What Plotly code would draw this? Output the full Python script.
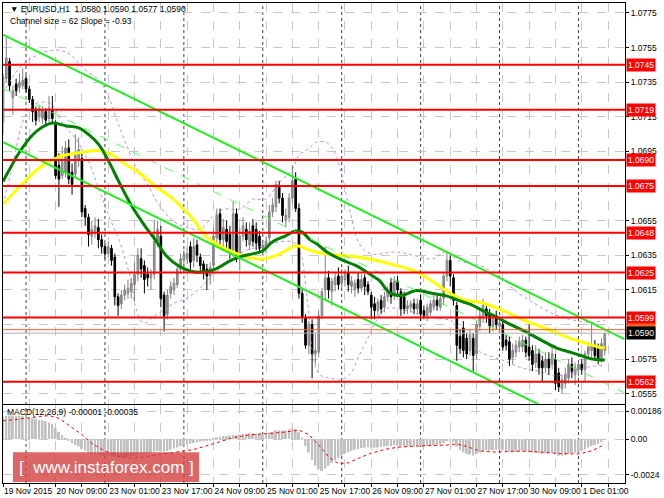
import plotly.graph_objects as go

# ---------------- data ----------------
opens = [1.0712,1.0737,1.0747,1.0726,1.0734,1.0732,1.0733,1.0737,1.0731,1.0725,1.0719,1.0715,1.0714,1.0718,1.0714,1.0719,
         1.0711,1.0687,1.0681,1.0683,1.0697,1.0683,1.0682,1.0690,1.0691,1.0662,1.0657,1.0646,1.0648,1.0651,1.0644,1.0640,
         1.0636,1.0639,1.0634,1.0611,1.0607,1.0612,1.0613,1.0614,1.0618,1.0624,1.0633,1.0629,1.0624,1.0622,1.0624,1.0643,
         1.0646,1.0612,1.0601,1.0613,1.0615,1.0618,1.0627,1.0632,1.0633,1.0640,1.0632,1.0641,1.0634,1.0630,1.0627,1.0623,
         1.0629,1.0645,1.0659,1.0644,1.0650,1.0647,1.0638,1.0659,1.0633,1.0646,1.0650,1.0641,1.0652,1.0650,1.0646,1.0639,
         1.0639,1.0645,1.0660,1.0663,1.0675,1.0668,1.0655,1.0657,1.0668,1.0679,1.0662,1.0613,1.0599,1.0583,1.0595,1.0578,
         1.0579,1.0600,1.0615,1.0622,1.0614,1.0618,1.0623,1.0619,1.0621,1.0625,1.0617,1.0615,1.0621,1.0616,1.0622,1.0618,
         1.0612,1.0607,1.0603,1.0609,1.0605,1.0611,1.0619,1.0612,1.0620,1.0614,1.0611,1.0604,1.0605,1.0607,1.0604,1.0609,
         1.0603,1.0600,1.0602,1.0605,1.0609,1.0605,1.0610,1.0623,1.0632,1.0622,1.0606,1.0588,1.0593,1.0587,1.0580,1.0587,
         1.0578,1.0594,1.0599,1.0604,1.0601,1.0594,1.0600,1.0594,1.0595,1.0586,1.0585,1.0576,1.0579,1.0582,1.0582,1.0586,
         1.0582,1.0580,1.0573,1.0578,1.0574,1.0570,1.0575,1.0572,1.0575,1.0567,1.0558,1.0561,1.0564,1.0572,1.0566,1.0569,
         1.0572,1.0569,1.0578,1.0580,1.0583,1.0581,1.0576,1.0580]
highs = [1.0740,1.0761,1.0749,1.0733,1.0737,1.0740,1.0743,1.0739,1.0733,1.0727,1.0721,1.0722,1.0721,1.0720,1.0727,1.0727,
         1.0713,1.0694,1.0698,1.0701,1.0702,1.0688,1.0705,1.0703,1.0694,1.0664,1.0659,1.0655,1.0657,1.0656,1.0647,1.0642,
         1.0643,1.0641,1.0636,1.0613,1.0615,1.0618,1.0621,1.0622,1.0631,1.0639,1.0639,1.0632,1.0628,1.0627,1.0655,1.0655,
         1.0652,1.0614,1.0615,1.0620,1.0622,1.0630,1.0636,1.0638,1.0640,1.0643,1.0645,1.0644,1.0636,1.0632,1.0630,1.0631,
         1.0651,1.0662,1.0662,1.0656,1.0655,1.0652,1.0666,1.0662,1.0651,1.0657,1.0654,1.0654,1.0656,1.0654,1.0649,1.0644,
         1.0646,1.0664,1.0668,1.0678,1.0678,1.0671,1.0662,1.0671,1.0687,1.0683,1.0665,1.0616,1.0601,1.0597,1.0598,1.0590,
         1.0603,1.0616,1.0640,1.0626,1.0622,1.0625,1.0628,1.0627,1.0627,1.0629,1.0623,1.0621,1.0625,1.0624,1.0624,1.0620,
         1.0614,1.0611,1.0610,1.0612,1.0614,1.0617,1.0622,1.0623,1.0623,1.0616,1.0614,1.0609,1.0609,1.0610,1.0610,1.0612,
         1.0606,1.0607,1.0609,1.0613,1.0612,1.0612,1.0625,1.0637,1.0635,1.0624,1.0608,1.0592,1.0597,1.0590,1.0592,1.0590,
         1.0597,1.0604,1.0610,1.0607,1.0604,1.0601,1.0603,1.0598,1.0597,1.0589,1.0588,1.0584,1.0586,1.0588,1.0589,1.0588,
         1.0595,1.0583,1.0583,1.0581,1.0577,1.0579,1.0579,1.0582,1.0578,1.0570,1.0566,1.0570,1.0575,1.0576,1.0573,1.0574,
         1.0575,1.0580,1.0585,1.0596,1.0586,1.0584,1.0587,1.0590]
lows = [1.0705,1.0735,1.0730,1.0716,1.0727,1.0729,1.0731,1.0729,1.0723,1.0712,1.0710,1.0712,1.0711,1.0710,1.0712,1.0712,
        1.0679,1.0663,1.0679,1.0680,1.0676,1.0670,1.0680,1.0686,1.0657,1.0652,1.0640,1.0641,1.0645,1.0639,1.0636,1.0633,
        1.0634,1.0629,1.0606,1.0600,1.0604,1.0609,1.0610,1.0610,1.0608,1.0620,1.0622,1.0613,1.0617,1.0615,1.0621,1.0640,
        1.0605,1.0591,1.0598,1.0610,1.0612,1.0616,1.0624,1.0629,1.0630,1.0627,1.0628,1.0631,1.0625,1.0621,1.0615,1.0618,
        1.0626,1.0641,1.0641,1.0640,1.0637,1.0633,1.0634,1.0631,1.0626,1.0643,1.0640,1.0638,1.0640,1.0638,1.0636,1.0636,
        1.0636,1.0642,1.0657,1.0660,1.0665,1.0654,1.0651,1.0654,1.0665,1.0660,1.0610,1.0596,1.0581,1.0578,1.0564,1.0572,
        1.0576,1.0598,1.0610,1.0610,1.0606,1.0614,1.0615,1.0616,1.0617,1.0614,1.0613,1.0611,1.0613,1.0614,1.0612,1.0612,
        1.0598,1.0598,1.0600,1.0601,1.0602,1.0608,1.0607,1.0609,1.0612,1.0600,1.0601,1.0601,1.0602,1.0601,1.0601,1.0597,
        1.0598,1.0597,1.0600,1.0603,1.0603,1.0603,1.0606,1.0620,1.0617,1.0606,1.0574,1.0578,1.0576,1.0575,1.0577,1.0568,
        1.0575,1.0591,1.0596,1.0596,1.0590,1.0591,1.0592,1.0590,1.0580,1.0580,1.0571,1.0572,1.0576,1.0579,1.0579,1.0576,
        1.0574,1.0568,1.0570,1.0566,1.0562,1.0567,1.0566,1.0569,1.0557,1.0556,1.0555,1.0558,1.0561,1.0564,1.0560,1.0565,
        1.0566,1.0562,1.0575,1.0576,1.0574,1.0572,1.0573,1.0577]
closes = [1.0738,1.0749,1.0733,1.0730,1.0730,1.0735,1.0736,1.0731,1.0725,1.0718,1.0713,1.0720,1.0719,1.0713,1.0720,1.0714,
          1.0681,1.0679,1.0689,1.0697,1.0679,1.0676,1.0694,1.0696,1.0660,1.0657,1.0647,1.0650,1.0652,1.0644,1.0640,1.0636,
          1.0640,1.0632,1.0611,1.0606,1.0612,1.0615,1.0616,1.0619,1.0624,1.0635,1.0627,1.0621,1.0622,1.0624,1.0643,1.0650,
          1.0610,1.0600,1.0612,1.0617,1.0619,1.0627,1.0633,1.0635,1.0636,1.0631,1.0640,1.0635,1.0629,1.0625,1.0623,1.0628,
          1.0646,1.0658,1.0644,1.0651,1.0643,1.0637,1.0659,1.0634,1.0646,1.0652,1.0644,1.0649,1.0643,1.0642,1.0639,1.0641,
          1.0643,1.0660,1.0664,1.0676,1.0668,1.0658,1.0658,1.0668,1.0678,1.0662,1.0613,1.0599,1.0583,1.0595,1.0578,1.0580,
          1.0600,1.0614,1.0622,1.0615,1.0620,1.0622,1.0618,1.0623,1.0624,1.0618,1.0620,1.0619,1.0616,1.0621,1.0617,1.0614,
          1.0605,1.0603,1.0608,1.0604,1.0611,1.0614,1.0611,1.0620,1.0615,1.0604,1.0604,1.0606,1.0607,1.0604,1.0607,1.0601,
          1.0600,1.0605,1.0607,1.0609,1.0606,1.0610,1.0623,1.0632,1.0623,1.0609,1.0583,1.0581,1.0580,1.0578,1.0589,1.0577,
          1.0595,1.0600,1.0606,1.0600,1.0594,1.0598,1.0595,1.0596,1.0582,1.0583,1.0575,1.0580,1.0583,1.0585,1.0586,1.0579,
          1.0577,1.0572,1.0578,1.0570,1.0570,1.0575,1.0570,1.0578,1.0561,1.0559,1.0563,1.0566,1.0572,1.0568,1.0570,1.0572,
          1.0569,1.0578,1.0582,1.0583,1.0577,1.0575,1.0584,1.0590]

time_labels = ["19 Nov 2015", "20 Nov 09:00", "23 Nov 01:00", "23 Nov 17:00", "24 Nov 09:00", "25 Nov 01:00",
               "25 Nov 17:00", "26 Nov 09:00", "27 Nov 01:00", "27 Nov 17:00", "30 Nov 09:00", "1 Dec 01:00"]
label_bars = [0, 16, 32, 48, 64, 80, 96, 112, 128, 144, 160, 176]
day_start_bars = [7, 31, 55, 79, 103, 127, 151, 175]

levels = [1.0745, 1.0719, 1.0690, 1.0675, 1.0648, 1.0625, 1.0599, 1.0562]
bid_price = 1.0590
ask_price = 1.0592
price_ticks = [1.0775, 1.0755, 1.0735, 1.0715, 1.0695, 1.0675, 1.0655, 1.0635, 1.0615, 1.0595, 1.0575, 1.0555]
hidden_ticks = [1.0675, 1.0595]

ma_green_bars = [0, 5.1, 9.0, 12.0, 15.1, 19.3, 23.2, 26.2, 29.2, 32.2, 35.2, 39.2, 43.4, 46.4, 49.7, 53.9, 57.8, 61.7,
                 64.8, 69.0, 72.0, 75.9, 78.9, 81.9, 85.8, 88.9, 91.0, 93.1, 95.5, 98.5, 102.4, 107.5, 111.4, 114.5,
                 117.5, 121.1, 125.6, 130.7, 134.6, 138.6, 142.2, 145.8, 149.7, 154.2, 159.3, 164.2, 168.4, 172.3,
                 176.2, 179.2, 183]
ma_green_vals = [1.06776, 1.06948, 1.07045, 1.07091, 1.07114, 1.07097, 1.07085, 1.07045, 1.06988, 1.06891, 1.06776,
                 1.06633, 1.06513, 1.06438, 1.06346, 1.06283, 1.06255, 1.06255, 1.06272, 1.06318, 1.06341, 1.06358,
                 1.06375, 1.06427, 1.06461, 1.06490, 1.06484, 1.06444, 1.06415, 1.06369, 1.06329, 1.06289, 1.06243,
                 1.06203, 1.06135, 1.06117, 1.06146, 1.06129, 1.06117, 1.06089, 1.06066, 1.06031, 1.05997, 1.05951,
                 1.05905, 1.05854, 1.05814, 1.05791, 1.05768, 1.05751, 1.05745]
ma_yellow_bars = [0, 5.1, 11.1, 17.2, 23.2, 29.2, 33.1, 37.3, 41.3, 46.4, 51.8, 57.8, 61.7, 66.0, 69.9, 73.8, 78.9, 82.8,
                  85.8, 88.9, 91.0, 94.0, 98.5, 107.5, 117.5, 125.6, 130.7, 135.2, 139.8, 145.2, 151.2, 159.3, 167.2,
                  172.3, 177.4, 181.3, 183]
ma_yellow_vals = [1.06644, 1.06747, 1.06856, 1.06919, 1.06942, 1.06954, 1.06931, 1.06874, 1.06828, 1.06747, 1.06673,
                  1.06558, 1.06461, 1.06404, 1.06369, 1.06341, 1.06329, 1.06346, 1.06375, 1.06404, 1.06398, 1.06375,
                  1.06358, 1.06341, 1.06301, 1.06255, 1.06197, 1.06140, 1.06094, 1.06077, 1.06037, 1.05968, 1.05911,
                  1.05871, 1.05842, 1.05819, 1.05814]
bb_upper_bars = [0, 5.1, 9.0, 14.2, 17.8, 20.8, 24.1, 29.2, 32.2, 34.6, 37.3, 40.4, 44.3, 47.3, 51.8, 55.7, 59.9, 63.9,
                 66.9, 72.0, 75.9, 79.8, 84.0, 88.0, 90.1, 92.5, 95.5, 98.5, 100.9, 103.0, 105.4, 108.4, 112.0, 119.6,
                 125.6, 130.7, 134.6, 138.6, 145.2, 148.2, 152.1, 155.7, 161.7, 167.8, 173.8, 179.8, 183]
bb_upper_vals = [1.07286, 1.07435, 1.07492, 1.07532, 1.07532, 1.07504, 1.07435, 1.07360, 1.07263, 1.07131, 1.07000,
                 1.06862, 1.06747, 1.06644, 1.06547, 1.06513, 1.06501, 1.06576, 1.06616, 1.06616, 1.06673, 1.06673,
                 1.06770, 1.06845, 1.06931, 1.06959, 1.07005, 1.07000, 1.06942, 1.06816, 1.06616, 1.06415, 1.06358,
                 1.06369, 1.06346, 1.06329, 1.06369, 1.06318, 1.06289, 1.06260, 1.06215, 1.06146, 1.06071, 1.06008,
                 1.05974, 1.05963, 1.05974]
bb_lower_bars = [0, 3.0, 6.0, 9.0, 14.2, 18.1, 22.3, 26.2, 29.2, 32.2, 35.2, 37.3, 39.2, 40.4, 42.8, 45.8, 48.8, 51.8,
                 55.7, 60.8, 66.0, 69.0, 72.9, 78.9, 84.0, 88.0, 90.1, 92.5, 94.6, 96.4, 100.6, 102.4, 105.4, 108.4,
                 111.4, 113.6, 116.6, 122.6, 128.6, 132.5, 136.7, 140.7, 144.6, 152.7, 157.8, 162.7, 167.8, 172.3,
                 176.8, 183]
bb_lower_vals = [1.06644, 1.06874, 1.07120, 1.07217, 1.07229, 1.07114, 1.07017, 1.06885, 1.06730, 1.06576, 1.06444,
                 1.06318, 1.06186, 1.06043, 1.05957, 1.05997, 1.06031, 1.06071, 1.06100, 1.06174, 1.06272, 1.06312,
                 1.06369, 1.06404, 1.06427, 1.06427, 1.06386, 1.06100, 1.05739, 1.05659, 1.05636, 1.05630, 1.05659,
                 1.05774, 1.05888, 1.05974, 1.06043, 1.06031, 1.05997, 1.05986, 1.05968, 1.05871, 1.05797, 1.05739,
                 1.05699, 1.05681, 1.05653, 1.05669, 1.05699, 1.05716]

chan_bars = [0, 189]
chan_upper = [1.07624, 1.05866]
chan_size = 0.0062

macd_hist = [0.00150, 0.00155, 0.00158, 0.00158, 0.00157, 0.00155, 0.00153, 0.00150, 0.00146, 0.00140, 0.00134,
             0.00130, 0.00126, 0.00120, 0.00112, 0.00100, 0.00075, 0.00050,
             0.00025, 0.00005, -0.00012, -0.00028, -0.00040, -0.00050, -0.00065, -0.00078, -0.00090, -0.00098,
             -0.00102, -0.00106, -0.00110, -0.00112, -0.00114, -0.00116, -0.00120, -0.00124, -0.00124, -0.00122,
             -0.00120, -0.00116, -0.00112, -0.00106, -0.00102, -0.00098, -0.00095, -0.00092, -0.00086, -0.00082,
             -0.00084, -0.00086,
             -0.00080, -0.00072, -0.00064, -0.00056, -0.00048, -0.00042, -0.00036, -0.00032, -0.00026, -0.00022,
             -0.00018, -0.00014, -0.00010, -0.00005, 0.00003, 0.00012, 0.00016, 0.00020, 0.00022, 0.00022, 0.00028,
             0.00028, 0.00030, 0.00034, 0.00036, 0.00038, 0.00038, 0.00038, 0.00036, 0.00034, 0.00034, 0.00042,
             0.00048, 0.00058, 0.00060, 0.00058, 0.00058, 0.00064, 0.00072, 0.00068,
             0.00045, 0.00005, -0.00045, -0.00090, -0.00140, -0.00180, -0.00205, -0.00215, -0.00200, -0.00180,
             -0.00160, -0.00140, -0.00125, -0.00110, -0.00098, -0.00090, -0.00080, -0.00072, -0.00066, -0.00060,
             -0.00056, -0.00054, -0.00056, -0.00058, -0.00056, -0.00054, -0.00050, -0.00046, -0.00046, -0.00042,
             -0.00042, -0.00046, -0.00048, -0.00048, -0.00046, -0.00046, -0.00044, -0.00046, -0.00048, -0.00046,
             -0.00044, -0.00040, -0.00040, -0.00036, -0.00026, -0.00014, -0.00012, -0.00020, -0.00050, -0.00072,
             -0.00088, -0.00100, -0.00104, -0.00110, -0.00100, -0.00090, -0.00080, -0.00076, -0.00076, -0.00074,
             -0.00072, -0.00070, -0.00076, -0.00080, -0.00086, -0.00088, -0.00086, -0.00084, -0.00082, -0.00084,
             -0.00088, -0.00092, -0.00092, -0.00096, -0.00098, -0.00096, -0.00096, -0.00094, -0.00104, -0.00112,
             -0.00112, -0.00108, -0.00100, -0.00096, -0.00092, -0.00086, -0.00080, -0.00068, -0.00056, -0.00046,
             -0.00040, -0.00034, -0.00020, -0.00001]
signal_bars = [0, 5, 10, 14, 17, 20, 24, 27, 31, 35, 39, 43, 48, 53, 58, 62, 66, 70, 75, 80, 85, 90, 93, 96, 99, 102,
               105, 108, 112, 116, 120, 125, 130, 135, 138, 141, 145, 150, 155, 160, 165, 170, 175, 179, 183]
signal_vals = [0.00122, 0.00135, 0.00150, 0.00158, 0.00140, 0.00095, 0.00030, -0.00030, -0.00080, -0.00115, -0.00128,
               -0.00120, -0.00105, -0.00090, -0.00070, -0.00045, -0.00015, 0.00010, 0.00028, 0.00036, 0.00045,
               0.00060, 0.00030, -0.00040, -0.00120, -0.00165, -0.00160, -0.00130, -0.00095, -0.00070, -0.00055,
               -0.00048, -0.00046, -0.00040, -0.00032, -0.00050, -0.00080, -0.00088, -0.00082, -0.00082, -0.00090,
               -0.00098, -0.00100, -0.00080, -0.00035]
macd_ticks = [0.00186, 0.0, -0.0024]
macd_ticktext = ["0.00186", "0.00", "-0.0024"]

# ---------------- layout geometry ----------------
W, H = 664, 498
ML, MR, MT, MB = 3, 33, 2, 12
PW, PH = W - ML - MR, H - MT - MB
PX_PER_BAR = 3.32
X_MAX = PW / PX_PER_BAR
MAIN_BOTTOM_PX, MACD_TOP_PX = 406, 407
PRICE_TOP, PRICE_PER_PX = 1.0775 + 10 * 0.00005729, 0.00005729
MACD_ZERO_PX, MACD_PER_PX = 441.7, 1 / 15000.0

def px_x(px):
    return (px - ML) / PW

def px_y(py):
    return 1 - (py - MT) / PH

main_dom = [px_y(MAIN_BOTTOM_PX), 1.0]
macd_dom = [0.0, px_y(MACD_TOP_PX)]
price_range = [PRICE_TOP - (MAIN_BOTTOM_PX - MT) * PRICE_PER_PX, PRICE_TOP]
macd_range = [(MACD_ZERO_PX - (H - MB)) * MACD_PER_PX, (MACD_ZERO_PX - MACD_TOP_PX) * MACD_PER_PX]

FONT = "Liberation Sans"
FS = 8.5
n = len(closes)
bars = list(range(n))

fig = go.Figure()

# Bollinger-type envelopes
for bx, bv in [(bb_upper_bars, bb_upper_vals), (bb_lower_bars, bb_lower_vals)]:
    fig.add_trace(go.Scatter(x=bx, y=bv, mode="lines", line=dict(color="#c68ae6", width=1, dash="dot", shape="spline"),
                             hoverinfo="skip", showlegend=False))

# candle wicks
up = [i for i in bars if closes[i] >= opens[i]]
dn = [i for i in bars if closes[i] < opens[i]]
for idx, col in [(up, "#808080"), (dn, "#000000")]:
    wx, wy = [], []
    for i in idx:
        wx += [i, i, None]
        wy += [lows[i], highs[i], None]
    fig.add_trace(go.Scatter(x=wx, y=wy, mode="lines", line=dict(color=col, width=1), hoverinfo="skip",
                             showlegend=False))
# candle bodies
for idx, fill, edge in [(up, "#ffffff", "#808080"), (dn, "#000000", "#000000")]:
    fig.add_trace(go.Bar(x=idx, y=[max(abs(closes[i] - opens[i]), 0.00002) for i in idx],
                         base=[min(opens[i], closes[i]) for i in idx], width=0.5,
                         marker=dict(color=fill, line=dict(color=edge, width=1)), hoverinfo="skip",
                         showlegend=False))

# moving averages
fig.add_trace(go.Scatter(x=ma_yellow_bars, y=ma_yellow_vals, mode="lines",
                         line=dict(color="#ffff00", width=3, shape="spline"), hoverinfo="skip", showlegend=False))
fig.add_trace(go.Scatter(x=ma_green_bars, y=ma_green_vals, mode="lines",
                         line=dict(color="#008000", width=3, shape="spline"), hoverinfo="skip", showlegend=False))

# regression channel
chan_mid = [v - chan_size / 2 for v in chan_upper]
chan_low = [v - chan_size for v in chan_upper]
fig.add_trace(go.Scatter(x=chan_bars, y=chan_mid, mode="lines", line=dict(color="#55ff55", width=1, dash="dash"),
                         hoverinfo="skip", showlegend=False))
for cv in (chan_upper, chan_low):
    fig.add_trace(go.Scatter(x=chan_bars, y=cv, mode="lines", line=dict(color="#22ee22", width=2),
                             hoverinfo="skip", showlegend=False))

# MACD
fig.add_trace(go.Bar(x=bars, y=macd_hist, width=0.6, marker=dict(color="#c0c0c0", line=dict(width=0)),
                     xaxis="x2", yaxis="y2", hoverinfo="skip", showlegend=False))
fig.add_trace(go.Scatter(x=signal_bars, y=signal_vals, mode="lines", line=dict(color="#ff0000", width=1, dash="dot"),
                         xaxis="x2", yaxis="y2", hoverinfo="skip", showlegend=False))

shapes = []
for b in day_start_bars:
    shapes.append(dict(type="line", xref="x", yref="paper", x0=b, x1=b, y0=0, y1=1,
                       line=dict(color="#404040", width=1, dash="dot"), layer="below"))
for lv in levels:
    shapes.append(dict(type="line", xref="paper", yref="y", x0=0, x1=1, y0=lv, y1=lv,
                       line=dict(color="#ff0000", width=2)))
shapes.append(dict(type="line", xref="paper", yref="y", x0=0, x1=1, y0=ask_price, y1=ask_price,
                   line=dict(color="#ff6020", width=1)))
shapes.append(dict(type="line", xref="paper", yref="y", x0=0, x1=1, y0=bid_price, y1=bid_price,
                   line=dict(color="#b0b0b0", width=1)))
# watermark box
shapes.append(dict(type="rect", xref="paper", yref="paper", x0=px_x(13), x1=px_x(201), y0=px_y(485), y1=px_y(455),
                   fillcolor="rgba(212,60,60,0.78)", line=dict(width=0), layer="above"))

annotations = []
for lv in levels:
    annotations.append(dict(xref="paper", yref="y", x=1, y=lv, xanchor="left", yanchor="middle", xshift=1,
                            text=f"{lv:.4f}", showarrow=False, bgcolor="#ff0000", borderpad=1,
                            font=dict(family=FONT, size=FS, color="white")))
annotations.append(dict(xref="paper", yref="y", x=1, y=ask_price, xanchor="left", yanchor="middle", xshift=1,
                        text=f"{ask_price:.4f}", showarrow=False, bgcolor="#ff6020", borderpad=1,
                        font=dict(family=FONT, size=FS, color="white")))
annotations.append(dict(xref="paper", yref="y", x=1, y=bid_price, xanchor="left", yanchor="middle", xshift=1,
                        text=f"{bid_price:.4f}", showarrow=False, bgcolor="#000000", borderpad=1,
                        font=dict(family=FONT, size=FS, color="white")))
annotations.append(dict(xref="paper", yref="paper", x=px_x(8), y=px_y(8), xanchor="left", yanchor="middle",
                        text=f"▼ EURUSD,H1  {opens[-1]:.4f} {highs[-1]:.4f} {lows[-1]:.4f} {closes[-1]:.4f}",
                        showarrow=False, font=dict(family=FONT, size=FS, color="black")))
annotations.append(dict(xref="paper", yref="paper", x=px_x(8), y=px_y(20), xanchor="left", yanchor="middle",
                        text=f"Channel size = {round(chan_size * 10000)} Slope = "
                             f"{(chan_upper[1] - chan_upper[0]) / (chan_bars[1] - chan_bars[0]) * 10000:.2f}",
                        showarrow=False, font=dict(family=FONT, size=FS, color="black")))
annotations.append(dict(xref="paper", yref="paper", x=px_x(5), y=px_y(414), xanchor="left", yanchor="middle",
                        text=f"MACD(12,26,9) {macd_hist[-1]:.5f} {signal_vals[-1]:.5f}",
                        showarrow=False, font=dict(family=FONT, size=FS, color="black")))
annotations.append(dict(xref="paper", yref="paper", x=px_x(107), y=px_y(470), xanchor="center", yanchor="middle",
                        text="[  www.instaforex.com ]", showarrow=False,
                        font=dict(family=FONT, size=17, color="white")))

grid_bars = list(range(0, int(X_MAX) + 1, 8))
grid_text = [time_labels[label_bars.index(b)] if b in label_bars else "" for b in grid_bars]

axis_common = dict(showline=True, mirror=True, linecolor="#000000", linewidth=1, zeroline=False,
                   showgrid=True, gridcolor="#c8c8c8", griddash="dash", gridwidth=1)

fig.update_layout(
    width=W, height=H, margin=dict(l=ML, r=MR, t=MT, b=MB),
    paper_bgcolor="white", plot_bgcolor="white", barmode="overlay", showlegend=False,
    font=dict(family=FONT, size=FS, color="black"),
    xaxis=dict(domain=[0, 1], range=[0, X_MAX], anchor="y", tickmode="array", tickvals=grid_bars,
               showticklabels=False, ticks="", **axis_common),
    xaxis2=dict(domain=[0, 1], range=[0, X_MAX], anchor="y2", matches="x", tickmode="array", tickvals=grid_bars,
                ticktext=grid_text, ticks="outside", ticklen=3, tickcolor="black", tickangle=0,
                ticklabelposition="outside right", tickfont=dict(family=FONT, size=FS, color="black"),
                **axis_common),
    yaxis=dict(domain=main_dom, range=price_range, side="right", anchor="x", tickmode="array",
               tickvals=price_ticks,
               ticktext=["" if t in hidden_ticks else f"{t:.4f}" for t in price_ticks],
               ticks="outside", ticklen=3, tickcolor="black", tickfont=dict(family=FONT, size=FS, color="black"),
               **axis_common),
    yaxis2=dict(domain=macd_dom, range=macd_range, side="right", anchor="x2", tickmode="array",
                tickvals=macd_ticks, ticktext=macd_ticktext, ticks="outside", ticklen=3, tickcolor="black",
                tickfont=dict(family=FONT, size=FS, color="black"), **axis_common),
    shapes=shapes, annotations=annotations,
)

fig.write_html("out.html", config={"displayModeBar": False},
               post_script="document.body.style.margin='0';document.body.style.overflow='hidden';"
                           "document.documentElement.style.overflow='hidden';")
